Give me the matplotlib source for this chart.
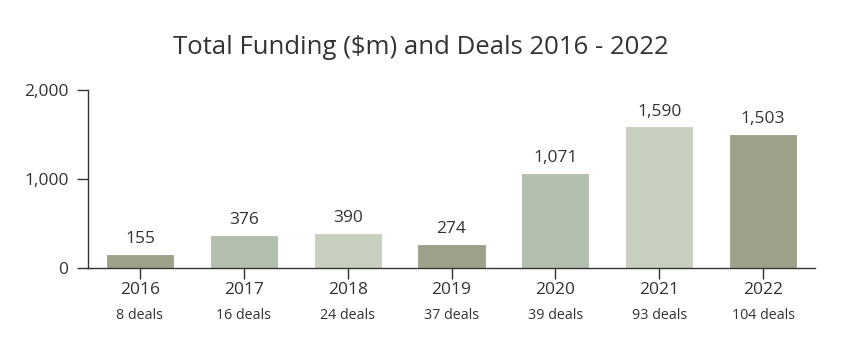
import matplotlib.pyplot as plt
from matplotlib.ticker import FuncFormatter

years = ["2016", "2017", "2018", "2019", "2020", "2021", "2022"]
funding = [155, 376, 390, 274, 1071, 1590, 1503]
deals = [8, 16, 24, 37, 39, 93, 104]
colors = ["#9ca38a", "#b3bfae", "#c8d0c0", "#9ca38a", "#b3bfae", "#c8d0c0", "#9ca38a"]

text_color = "#333333"
plt.rcParams["font.family"] = ["Open Sans", "DejaVu Sans"]


def plot_data(figure_name):
    fig = plt.figure(figsize=(8.51, 3.62), dpi=100)
    ax = fig.add_axes([88 / 851, 1 - 268 / 362, 727 / 851, 178 / 362])

    x = list(range(len(years)))
    bars = ax.bar(x, funding, width=0.655, color=colors, edgecolor="white", linewidth=0.8)

    for bar, value in zip(bars, funding):
        ax.annotate(
            f"{value:,}",
            xy=(bar.get_x() + bar.get_width() / 2, value),
            xytext=(0, 5),
            textcoords="offset points",
            ha="center",
            va="bottom",
            fontsize=12.5,
            color=text_color,
        )

    for i, d in enumerate(deals):
        ax.annotate(
            f"{d} deals",
            xy=(i, 0),
            xytext=(0, -34),
            textcoords="offset points",
            ha="center",
            va="center",
            fontsize=10.3,
            color=text_color,
            annotation_clip=False,
        )

    ax.set_xlim(-0.5, 6.5)
    ax.set_ylim(0, 2000)
    ax.set_xticks(x)
    ax.set_xticklabels(years)
    ax.set_yticks([0, 1000, 2000])
    ax.yaxis.set_major_formatter(FuncFormatter(lambda v, p: f"{int(v):,}"))

    for side in ["top", "right"]:
        ax.spines[side].set_visible(False)
    for side in ["left", "bottom"]:
        ax.spines[side].set_color(text_color)
        ax.spines[side].set_linewidth(1.0)

    ax.tick_params(axis="both", length=8, width=1.0, color=text_color,
                   labelsize=12.5, labelcolor=text_color)
    ax.tick_params(axis="x", pad=2)
    ax.tick_params(axis="y", pad=6)

    fig.text(0.494, 1 - 48 / 362, "Total Funding ($m) and Deals 2016 - 2022",
             ha="center", va="center", fontsize=18.5, color=text_color)

    fig.savefig(figure_name, dpi=100)


if __name__ == "__main__":
    plot_data("out.png")
